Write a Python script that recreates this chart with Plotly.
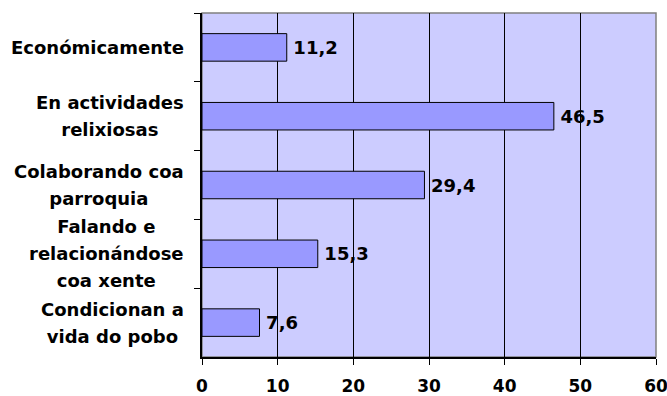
import plotly.graph_objects as go

# Survey answers (top to bottom) and their percentages
categories = [
    "Económicamente",
    "En actividades<br>relixiosas",
    "Colaborando coa<br>parroquia",
    "Falando e<br>relacionándose<br>coa xente",
    "Condicionan a<br>vida do pobo",
]
values = [11.2, 46.5, 29.4, 15.3, 7.6]
x_ticks = [0, 10, 20, 30, 40, 50, 60]

FONT = "DejaVu Sans"
LABEL_SIZE = 18
TICK_SIZE = 17
BAR_FILL = "#9999FF"
PLOT_BG = "#CCCCFF"


def comma_decimal(v):
    return f"{v:.1f}".replace(".", ",")


fig = go.Figure()
fig.add_trace(go.Bar(
    x=values,
    y=categories,
    orientation="h",
    marker=dict(color=BAR_FILL, line=dict(color="black", width=1)),
    text=[comma_decimal(v) for v in values],
    texttemplate="\u2009%{text}",
    textposition="outside",
    textfont=dict(family=FONT, size=LABEL_SIZE, color="black", weight="bold"),
    cliponaxis=False,
    hoverinfo="skip",
))

# Category labels: right-aligned block, lines centred, generous line spacing
annotations = []
for cat in categories:
    lines = cat.split("<br>")
    txt = "<br>".join(
        f"<span style='font-size:{LABEL_SIZE}px'>{ln}</span>" for ln in lines
    )
    annotations.append(dict(
        x=0, xref="paper", xshift=-16,
        y=cat, yref="y",
        xanchor="right", yanchor="middle",
        align="center",
        text=txt,
        showarrow=False,
        font=dict(family=FONT, size=20.8, color="black", weight="bold"),
    ))

fig.update_layout(
    width=667, height=396,
    margin=dict(l=202, r=11, t=13, b=39),
    paper_bgcolor="white",
    plot_bgcolor=PLOT_BG,
    bargap=0.6,
    showlegend=False,
    annotations=annotations,
    shapes=[dict(
        type="rect", xref="paper", yref="paper",
        x0=0, x1=1, y0=0, y1=1,
        line=dict(color="#808080", width=1.5),
        fillcolor="rgba(0,0,0,0)",
        layer="below",
    )],
    xaxis=dict(
        range=[0, 60],
        tickvals=x_ticks,
        ticktext=[str(t) for t in x_ticks],
        showgrid=True, gridcolor="black", gridwidth=1,
        zeroline=False,
        showline=True, linecolor="black", linewidth=1.5,
        ticks="outside", ticklen=6, tickcolor="black", tickwidth=1,
        tickfont=dict(family=FONT, size=TICK_SIZE, color="black", weight="bold"),
        ticklabelstandoff=7,
        ticklabeloverflow="allow",
        automargin=False,
        fixedrange=True,
    ),
    yaxis=dict(
        autorange="reversed",
        showgrid=False,
        showticklabels=False,
        showline=True, linecolor="black", linewidth=1.5,
        ticks="outside", ticklen=6, tickcolor="black", tickwidth=1,
        tickson="boundaries",
        automargin=False,
        fixedrange=True,
    ),
)

fig.write_html("out.html", config={"displayModeBar": False})
